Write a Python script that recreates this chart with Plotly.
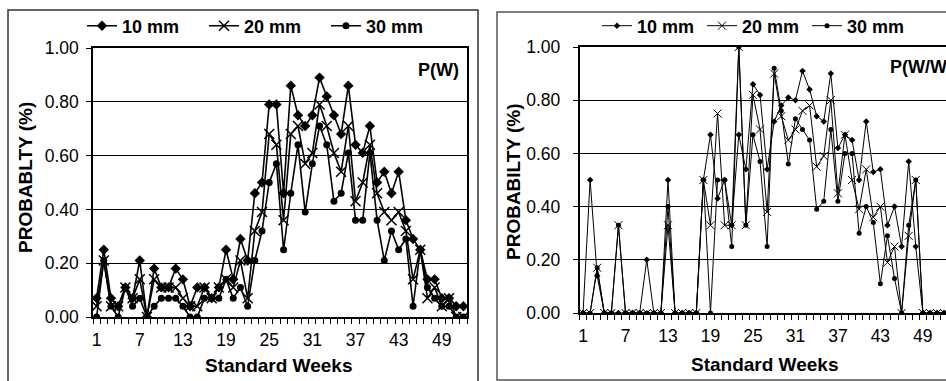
import plotly.graph_objects as go

# ---------------- data ----------------
weeks = list(range(1, 53))
week_labels = [1, 7, 13, 19, 25, 31, 37, 43, 49]
y_ticks = [0, 0.2, 0.4, 0.6, 0.8, 1.0]

# Left panel: P(W)
pw_10mm = [0.07, 0.25, 0.07, 0.04, 0.11, 0.07, 0.21, 0.00, 0.18, 0.11,
           0.11, 0.18, 0.14, 0.04, 0.11, 0.11, 0.07, 0.11, 0.25, 0.14,
           0.29, 0.21, 0.46, 0.50, 0.79, 0.79, 0.46, 0.86, 0.75, 0.71,
           0.75, 0.89, 0.82, 0.75, 0.68, 0.86, 0.64, 0.61, 0.71, 0.50,
           0.54, 0.46, 0.54, 0.36, 0.29, 0.25, 0.14, 0.14, 0.07, 0.07,
           0.04, 0.04]
pw_20mm = [0.04, 0.21, 0.04, 0.04, 0.11, 0.07, 0.14, 0.00, 0.14, 0.11,
           0.11, 0.11, 0.07, 0.04, 0.04, 0.11, 0.07, 0.11, 0.14, 0.11,
           0.21, 0.07, 0.32, 0.39, 0.68, 0.64, 0.36, 0.68, 0.71, 0.57,
           0.61, 0.79, 0.71, 0.61, 0.54, 0.71, 0.43, 0.50, 0.64, 0.46,
           0.39, 0.36, 0.39, 0.32, 0.14, 0.25, 0.07, 0.11, 0.04, 0.07,
           0.00, 0.00]
pw_30mm = [0.00, 0.21, 0.04, 0.00, 0.11, 0.04, 0.07, 0.00, 0.04, 0.07,
           0.07, 0.07, 0.04, 0.00, 0.00, 0.07, 0.07, 0.07, 0.14, 0.07,
           0.11, 0.04, 0.21, 0.32, 0.50, 0.57, 0.25, 0.46, 0.64, 0.39,
           0.57, 0.71, 0.64, 0.43, 0.46, 0.61, 0.36, 0.36, 0.61, 0.36,
           0.21, 0.32, 0.25, 0.29, 0.04, 0.25, 0.11, 0.07, 0.04, 0.04,
           0.00, 0.00]

# Right panel: P(W/W)
pww_10mm = [0, 0.50, 0.14, 0, 0, 0, 0, 0, 0, 0.20,
            0, 0, 0.50, 0, 0, 0, 0, 0.50, 0.67, 0.43,
            0.50, 0.33, 0.67, 0.54, 0.86, 0.82, 0.54, 0.72, 0.78, 0.81,
            0.80, 0.91, 0.84, 0.74, 0.72, 0.90, 0.62, 0.67, 0.65, 0.50,
            0.72, 0.53, 0.54, 0.33, 0.40, 0.25, 0.57, 0.25, 0, 0,
            0, 0]
pww_20mm = [0, 0, 0.17, 0, 0, 0.33, 0, 0, 0, 0,
            0, 0, 0.33, 0, 0, 0, 0, 0.50, 0.33, 0.75,
            0.33, 0.33, 1.00, 0.33, 0.82, 0.69, 0.38, 0.90, 0.74, 0.65,
            0.69, 0.76, 0.78, 0.55, 0.59, 0.80, 0.45, 0.67, 0.50, 0.39,
            0.54, 0.36, 0.40, 0.19, 0.25, 0, 0.29, 0.50, 0, 0,
            0, 0]
pww_30mm = [0, 0, 0.17, 0, 0, 0.33, 0, 0, 0, 0,
            0, 0, 0.40, 0, 0, 0, 0, 0.50, 0, 0.50,
            0.50, 0.25, 1.00, 0.33, 0.67, 0.57, 0.25, 0.92, 0.76, 0.56,
            0.73, 0.69, 0.65, 0.39, 0.42, 0.69, 0.42, 0.60, 0.60, 0.30,
            0.40, 0.34, 0.11, 0.29, 0.13, 0, 0.33, 0.50, 0, 0,
            0, 0]

# ---------------- layout helpers ----------------
W, H = 946, 381
def px(x):
    return x / W
def py(y):
    return 1 - y / H

FONT = "Liberation Sans, Arial, sans-serif"
fig = go.Figure()

# Left traces
fig.add_trace(go.Scatter(x=weeks, y=pw_10mm, name="10 mm", mode="lines+markers",
                         line=dict(color="black", width=1.6),
                         marker=dict(symbol="diamond", size=8, color="black"),
                         xaxis="x", yaxis="y", legend="legend"))
fig.add_trace(go.Scatter(x=weeks, y=pw_20mm, name="20 mm", mode="lines+markers",
                         line=dict(color="black", width=1.6),
                         marker=dict(symbol="x-thin-open", size=10, color="black",
                                     line=dict(color="black", width=1.5)),
                         xaxis="x", yaxis="y", legend="legend"))
fig.add_trace(go.Scatter(x=weeks, y=pw_30mm, name="30 mm", mode="lines+markers",
                         line=dict(color="black", width=1.6),
                         marker=dict(symbol="circle", size=7, color="black"),
                         xaxis="x", yaxis="y", legend="legend"))

# Right traces
fig.add_trace(go.Scatter(x=weeks, y=pww_10mm, name="10 mm", mode="lines+markers",
                         line=dict(color="black", width=1),
                         marker=dict(symbol="diamond", size=5, color="black"),
                         xaxis="x2", yaxis="y2", legend="legend2"))
fig.add_trace(go.Scatter(x=weeks, y=pww_20mm, name="20 mm", mode="lines+markers",
                         line=dict(color="black", width=1),
                         marker=dict(symbol="x-thin-open", size=8, color="black",
                                     line=dict(color="black", width=1)),
                         xaxis="x2", yaxis="y2", legend="legend2"))
fig.add_trace(go.Scatter(x=weeks, y=pww_30mm, name="30 mm", mode="lines+markers",
                         line=dict(color="black", width=1),
                         marker=dict(symbol="circle", size=5, color="black"),
                         xaxis="x2", yaxis="y2", legend="legend2"))

tickfont = dict(family=FONT, size=17.5, color="black")

def xaxis_cfg(domain, rng, anchor):
    return dict(domain=domain, range=rng, anchor=anchor,
                tickvals=week_labels, ticktext=[str(v) for v in week_labels],
                ticks="", showgrid=False, zeroline=False,
                showline=True, linecolor="black", linewidth=1.5, mirror=True,
                minor=dict(ticks="outside", tick0=0.5, dtick=1, ticklen=5,
                           tickcolor="black", tickwidth=1, showgrid=False),
                tickfont=tickfont, ticklabelstandoff=6, automargin=False,
                fixedrange=True)

def yaxis_cfg(domain, anchor, mirror, standoff):
    return dict(domain=domain, range=[0, 1], anchor=anchor,
                tickvals=y_ticks, tickformat=".2f",
                ticks="outside", ticklen=5, tickcolor="black",
                showgrid=True, gridcolor="black", gridwidth=1, zeroline=False,
                showline=True, linecolor="black", linewidth=1.5, mirror=mirror,
                tickfont=tickfont, ticklabelstandoff=standoff, automargin=False,
                fixedrange=True)

legend_font = dict(family=FONT, size=18, color="black", weight="bold")

fig.update_layout(
    width=W, height=H,
    margin=dict(l=0, r=0, t=0, b=0, autoexpand=False),
    paper_bgcolor="white", plot_bgcolor="white",
    xaxis=xaxis_cfg([px(93), px(467)], [0.5, 52.5], "y"),
    yaxis=yaxis_cfg([py(317), py(48)], "x", True, 4),
    xaxis2=xaxis_cfg([px(579.5), 1.0], [0.5, 52.27], "y2"),
    yaxis2=yaxis_cfg([py(313), py(47)], "x2", False, 9),
    legend=dict(orientation="h", x=px(82), y=py(26), xanchor="left", yanchor="middle",
                font=legend_font, entrywidth=77, entrywidthmode="pixels",
                bgcolor="rgba(0,0,0,0)", borderwidth=0, traceorder="normal"),
    legend2=dict(orientation="h", x=px(597), y=py(26), xanchor="left", yanchor="middle",
                 font=legend_font, entrywidth=60, entrywidthmode="pixels",
                 bgcolor="rgba(0,0,0,0)", borderwidth=0, traceorder="normal"),
    showlegend=True,
)

title_font = dict(family=FONT, size=19, color="black", weight="bold")
fig.update_layout(annotations=[
    dict(text="PROBABLTY (%)", x=px(25), y=py(178), xref="paper", yref="paper",
         textangle=-90, showarrow=False, font=title_font, xanchor="center", yanchor="middle"),
    dict(text="PROBABILTY (%)", x=px(513), y=py(182), xref="paper", yref="paper",
         textangle=-90, showarrow=False, font=title_font, xanchor="center", yanchor="middle"),
    dict(text="Standard Weeks", x=px(278), y=py(365), xref="paper", yref="paper",
         showarrow=False, font=title_font, xanchor="center", yanchor="middle"),
    dict(text="Standard Weeks", x=px(764), y=py(364), xref="paper", yref="paper",
         showarrow=False, font=title_font, xanchor="center", yanchor="middle"),
    dict(text="P(W)", x=px(461), y=py(70), xref="paper", yref="paper",
         showarrow=False, font=dict(family=FONT, size=18, color="black", weight="bold"),
         xanchor="right", yanchor="middle"),
    dict(text="P(W/W)", x=px(955), y=py(67), xref="paper", yref="paper",
         showarrow=False, font=dict(family=FONT, size=18, color="black", weight="bold"),
         xanchor="right", yanchor="middle"),
])

fig.update_layout(shapes=[
    dict(type="rect", xref="paper", yref="paper", x0=px(8), x1=px(478), y0=py(383), y1=py(10),
         line=dict(color="#333", width=1.5), layer="below"),
    dict(type="rect", xref="paper", yref="paper", x0=px(497), x1=px(965), y0=py(380), y1=py(12),
         line=dict(color="#555", width=1.5), layer="below"),
])

fig.write_html("out.html", config={"displayModeBar": False},
               post_script="document.body.style.margin='0';document.body.style.overflow='hidden';")
